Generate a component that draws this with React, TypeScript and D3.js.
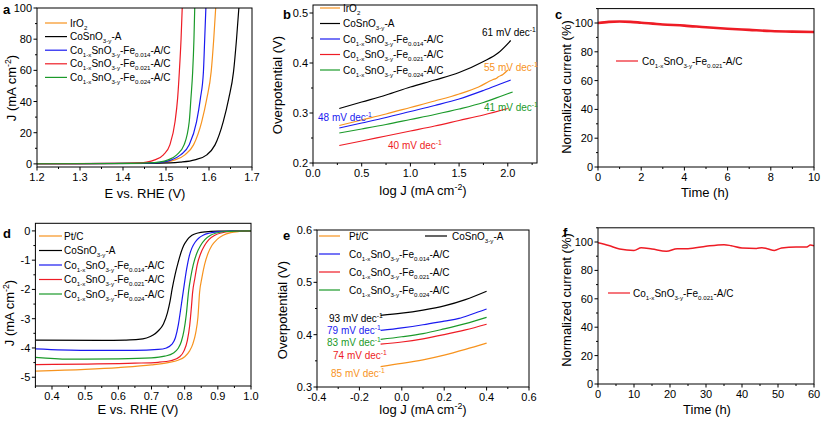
import React from "react";
import * as d3 from "d3";

const FONT = "'Liberation Sans', Arial, Helvetica, sans-serif";
const C = { orange: "#F7931E", black: "#000000", blue: "#1A1AF0", red: "#EE1C25", green: "#1B9A2A" };

type P = [number, number];

// Panel a: OER LSV (E vs RHE, J mA cm-2)
const oerIrO2: P[] = [[1.2,0.1],[1.44,0.3],[1.475,0.6],[1.498,1.1],[1.521,2.6],[1.544,5.8],[1.564,12.2],[1.583,27],[1.595,42],[1.605,59],[1.611,80],[1.616,102]];
const oerCoSnO: P[] = [[1.2,0.1],[1.46,0.3],[1.51,0.6],[1.533,1.1],[1.567,2.6],[1.595,5.8],[1.614,12.2],[1.633,27],[1.646,42],[1.657,59],[1.664,80],[1.67,102]];
const oerFe014: P[] = [[1.2,0.1],[1.43,0.3],[1.47,0.6],[1.49,1.1],[1.513,2.6],[1.534,5.8],[1.554,12.2],[1.571,27],[1.58,42],[1.587,59],[1.59,80],[1.593,102]];
const oerFe021: P[] = [[1.2,0.1],[1.4,0.3],[1.44,0.6],[1.455,1.1],[1.474,2.6],[1.494,5.8],[1.509,12.2],[1.521,27],[1.527,42],[1.531,59],[1.535,80],[1.538,102]];
const oerFe024: P[] = [[1.2,0.1],[1.42,0.3],[1.46,0.6],[1.482,1.1],[1.505,2.6],[1.525,5.8],[1.542,12.2],[1.554,27],[1.558,42],[1.562,59],[1.565,80],[1.567,102]];

// Panel b: OER Tafel (log J, overpotential V)
const tafOerIrO2: P[] = [[0.27,0.275],[0.5,0.286],[0.75,0.298],[1.0,0.311],[1.25,0.324],[1.5,0.338],[1.7,0.352],[1.85,0.367],[1.88,0.369],[1.9,0.372],[1.95,0.377],[2.0,0.386]];
const tafOerCoSnO: P[] = [[0.27,0.309],[0.5,0.322],[0.75,0.336],[1.0,0.352],[1.25,0.366],[1.5,0.381],[1.75,0.403],[1.9,0.42],[2.03,0.445]];
const tafOerFe014: P[] = [[0.27,0.27],[0.5,0.28],[0.75,0.291],[1.0,0.303],[1.25,0.315],[1.5,0.328],[1.75,0.345],[1.95,0.36],[2.03,0.366]];
const tafOerFe021: P[] = [[0.27,0.235],[0.5,0.244],[0.75,0.254],[1.0,0.264],[1.25,0.274],[1.5,0.285],[1.75,0.296],[2.0,0.309]];
const tafOerFe024: P[] = [[0.27,0.26],[0.5,0.268],[0.75,0.277],[1.0,0.287],[1.25,0.297],[1.5,0.308],[1.75,0.321],[1.95,0.335],[2.05,0.342]];

// Panel c: OER stability (h, %)
const stabOer: P[] = [[0,100],[0.5,100.8],[1,101],[1.5,100.8],[2,100.2],[3,99],[4,98.2],[5,97],[6,96],[7,95.2],[8,94.4],[9,94],[10,93.8]];

// Panel d: ORR LSV
const orrPtC: P[] = [[0.35,-4.79],[0.5,-4.73],[0.6,-4.67],[0.7,-4.58],[0.75,-4.5],[0.78,-4.42],[0.8,-4.3],[0.815,-4.1],[0.825,-3.85],[0.833,-3.5],[0.84,-2.95],[0.845,-2.1],[0.852,-1.6],[0.86,-1.15],[0.87,-0.78],[0.882,-0.5],[0.897,-0.3],[0.916,-0.15],[0.939,-0.06],[0.964,-0.02],[1.0,0]];
const orrCoSnO: P[] = [[0.35,-3.73],[0.55,-3.74],[0.62,-3.73],[0.66,-3.71],[0.685,-3.66],[0.705,-3.56],[0.72,-3.42],[0.736,-3.18],[0.748,-2.8],[0.756,-2.4],[0.762,-2.0],[0.771,-1.5],[0.781,-1.05],[0.789,-0.74],[0.797,-0.5],[0.808,-0.3],[0.822,-0.15],[0.84,-0.07],[0.863,-0.03],[0.9,-0.01],[1.0,0]];
const orrFe014: P[] = [[0.35,-4.03],[0.5,-4.08],[0.65,-4.08],[0.72,-4.05],[0.745,-4.0],[0.761,-3.88],[0.772,-3.65],[0.781,-3.2],[0.789,-2.6],[0.797,-1.97],[0.806,-1.3],[0.814,-0.85],[0.822,-0.58],[0.832,-0.38],[0.842,-0.25],[0.857,-0.14],[0.873,-0.08],[0.9,-0.03],[0.94,-0.01],[1.0,0]];
const orrFe021: P[] = [[0.35,-4.57],[0.5,-4.55],[0.65,-4.52],[0.72,-4.49],[0.76,-4.43],[0.785,-4.3],[0.798,-4.1],[0.808,-3.75],[0.815,-3.25],[0.82,-2.65],[0.824,-2.1],[0.831,-1.6],[0.838,-1.15],[0.848,-0.78],[0.86,-0.5],[0.873,-0.3],[0.891,-0.15],[0.91,-0.07],[0.94,-0.02],[1.0,0]];
const orrFe024: P[] = [[0.35,-4.32],[0.45,-4.38],[0.6,-4.37],[0.7,-4.34],[0.74,-4.28],[0.765,-4.18],[0.78,-4.02],[0.79,-3.78],[0.798,-3.4],[0.805,-2.85],[0.812,-2.05],[0.818,-1.6],[0.826,-1.15],[0.836,-0.78],[0.848,-0.5],[0.861,-0.3],[0.878,-0.15],[0.896,-0.07],[0.925,-0.02],[1.0,0]];

// Panel e: ORR Tafel
const tafOrrPtC: P[] = [[-0.1,0.339],[0,0.345],[0.1,0.352],[0.2,0.361],[0.3,0.372],[0.4,0.384]];
const tafOrrCoSnO: P[] = [[-0.1,0.437],[0,0.441],[0.1,0.447],[0.2,0.455],[0.3,0.467],[0.4,0.483]];
const tafOrrFe014: P[] = [[-0.1,0.408],[0,0.413],[0.1,0.419],[0.2,0.426],[0.27,0.431],[0.33,0.439],[0.4,0.449]];
const tafOrrFe021: P[] = [[-0.1,0.382],[0,0.386],[0.1,0.392],[0.2,0.4],[0.3,0.409],[0.4,0.42]];
const tafOrrFe024: P[] = [[-0.1,0.391],[0,0.396],[0.1,0.402],[0.2,0.411],[0.3,0.421],[0.4,0.433]];

// Panel f: ORR stability
const stabOrr: P[] = [[0,99.5],[3,97.5],[6,95],[10,94.1],[12,96],[15,95],[19,93.4],[22,95.3],[25,95.3],[30,97],[35,98.1],[37,97.4],[40,95.8],[44,95.5],[45.5,96],[47,95.3],[49,94.1],[51,95.8],[55,96.5],[58,96.5],[59,97.9],[60,97.4]];

// Tick values
const ticksA_x = [1.2,1.3,1.4,1.5,1.6,1.7];
const ticksA_y = [0,20,40,60,80,100];
const ticksB_x = [0,0.5,1.0,1.5,2.0];
const ticksB_y = [0.2,0.3,0.4,0.5];
const ticksC_x = [0,2,4,6,8,10];
const ticksC_y = [0,20,40,60,80,100];
const ticksD_x = [0.4,0.5,0.6,0.7,0.8,0.9,1.0];
const ticksD_y = [0,-1,-2,-3,-4,-5];
const ticksE_x = [-0.4,-0.2,0,0.2,0.4,0.6];
const ticksE_y = [0.3,0.4,0.5,0.6];
const ticksF_x = [0,10,20,30,40,50,60];
const ticksF_y = [0,20,40,60,80,100];

type Part = [string, "n" | "sub" | "sup"];
const IRO2: Part[] = [["IrO", "n"], ["2", "sub"]];
const PTC: Part[] = [["Pt/C", "n"]];
const COSNO: Part[] = [["CoSnO", "n"], ["3-y", "sub"], ["-A", "n"]];
const fe = (v: string): Part[] => [["Co", "n"], ["1-x", "sub"], ["SnO", "n"], ["3-y", "sub"], ["-Fe", "n"], [v, "sub"], ["-A/C", "n"]];
const JLABEL: Part[] = [["J (mA cm", "n"], ["-2", "sup"], [")", "n"]];
const LOGJ: Part[] = [["log J (mA cm", "n"], ["-2", "sup"], [")", "n"]];
const slope = (v: string): Part[] => [[v + " mV dec", "n"], ["-1", "sup"]];

function Rich({ parts, x, y, size = 10, fill = "#000", anchor = "start", rotate, ratio = 0.62 }: { parts: Part[]; x: number; y: number; size?: number; fill?: string; anchor?: string; rotate?: number; ratio?: number }) {
  let cur = 0;
  const spans = parts.map((p, i) => {
    const target = p[1] === "sub" ? size * 0.3 : p[1] === "sup" ? -size * 0.4 : 0;
    const dy = target - cur;
    cur = target;
    return (
      <tspan key={i} dy={dy} fontSize={p[1] === "n" ? size : size * ratio}>
        {p[0]}
      </tspan>
    );
  });
  return (
    <text x={x} y={y} fill={fill} fontFamily={FONT} fontSize={size} textAnchor={anchor as any}
      transform={rotate !== undefined ? `rotate(${rotate},${x},${y})` : undefined}>
      {spans}
    </text>
  );
}

type Series = { data: P[]; color: string; width?: number };
type LegendItem = { parts: Part[]; color: string; lx: number; lw: number; tx: number; y: number; lineW?: number };
type Note = { parts: Part[]; color: string; x: number; y: number };

function Panel(props: {
  id: string; letter: string; letterPos: [number, number];
  px: [number, number]; py: [number, number];
  xd: [number, number]; yd: [number, number];
  xt: number[]; yt: number[]; xMinor: number[]; yMinor: number[];
  xfmt: (v: number) => string; yfmt: (v: number) => string;
  series: Series[]; legend: LegendItem[]; notes?: Note[];
  xTitle: Part[]; yTitle: Part[]; xTitlePos: [number, number]; yTitlePos: [number, number];
}) {
  const x = d3.scaleLinear().domain(props.xd).range(props.px);
  const y = d3.scaleLinear().domain(props.yd).range([props.py[1], props.py[0]]);
  const line = d3.line<P>().x(d => x(d[0])).y(d => y(d[1])).curve(d3.curveMonotoneX);
  const [x0, x1] = props.px;
  const [y0, y1] = props.py;
  return (
    <g>
      <defs>
        <clipPath id={"clip" + props.id}>
          <rect x={x0} y={y0} width={x1 - x0} height={y1 - y0} />
        </clipPath>
      </defs>
      <g clipPath={`url(#clip${props.id})`}>
        {props.series.map((s, i) => (
          <path key={i} d={line(s.data) || ""} fill="none" stroke={s.color} strokeWidth={s.width ?? 1.2} strokeLinejoin="round" />
        ))}
      </g>
      <rect x={x0} y={y0} width={x1 - x0} height={y1 - y0} fill="none" stroke="#000" strokeWidth={1} />
      {props.xt.map(v => (
        <g key={"xt" + v}>
          <line x1={x(v)} x2={x(v)} y1={y1} y2={y1 + 3.5} stroke="#000" />
          <text x={x(v)} y={y1 + 13.5} textAnchor="middle" fontFamily={FONT} fontSize={11}>{props.xfmt(v)}</text>
        </g>
      ))}
      {props.xMinor.map(v => (
        <line key={"xm" + v} x1={x(v)} x2={x(v)} y1={y1} y2={y1 + 2} stroke="#000" />
      ))}
      {props.yt.map(v => (
        <g key={"yt" + v}>
          <line x1={x0 - 3.5} x2={x0} y1={y(v)} y2={y(v)} stroke="#000" />
          <text x={x0 - 5} y={y(v) + 4} textAnchor="end" fontFamily={FONT} fontSize={11}>{props.yfmt(v)}</text>
        </g>
      ))}
      {props.yMinor.map(v => (
        <line key={"ym" + v} x1={x0 - 2} x2={x0} y1={y(v)} y2={y(v)} stroke="#000" />
      ))}
      {props.legend.map((l, i) => (
        <g key={"lg" + i}>
          <line x1={l.lx} x2={l.lx + l.lw} y1={l.y} y2={l.y} stroke={l.color} strokeWidth={l.lineW ?? 1.2} />
          <Rich parts={l.parts} x={l.tx} y={l.y + 3.6} size={10} />
        </g>
      ))}
      {(props.notes || []).map((n, i) => (
        <Rich key={"nt" + i} parts={n.parts} x={n.x} y={n.y + 3.6} size={10} fill={n.color} ratio={0.68} />
      ))}
      <Rich parts={props.xTitle} x={props.xTitlePos[0]} y={props.xTitlePos[1]} size={13} anchor="middle" ratio={0.68} />
      <Rich parts={props.yTitle} x={props.yTitlePos[0]} y={props.yTitlePos[1]} size={13} anchor="middle" rotate={-90} ratio={0.68} />
      <text x={props.letterPos[0]} y={props.letterPos[1]} fontFamily={FONT} fontSize={13} fontWeight="bold">{props.letter}</text>
    </g>
  );
}

const hy = (s: string) => s.replace("\u2212", "-");
const f1 = (v: number) => hy(d3.format(".1f")(v));
const f0 = (v: number) => hy(d3.format("d")(v));
const between = (t: number[]) => t.slice(1).map((v, i) => (v + t[i]) / 2);

export default function App() {
  const legA = (lx: number, lw: number, tx: number, y0: number, dy: number, first: Part[], c0: string): LegendItem[] => [
    { parts: first, color: c0, lx, lw, tx, y: y0 },
    { parts: COSNO, color: C.black, lx, lw, tx, y: y0 + dy },
    { parts: fe("0.014"), color: C.blue, lx, lw, tx, y: y0 + 2 * dy },
    { parts: fe("0.021"), color: C.red, lx, lw, tx, y: y0 + 3 * dy },
    { parts: fe("0.024"), color: C.green, lx, lw, tx, y: y0 + 4 * dy },
  ];
  return (
    <svg width={822} height={423} style={{ position: "absolute", left: 0, top: 0, background: "#fff" }}>
      <rect width={822} height={423} fill="#fff" />
      {/* a */}
      <Panel id="a" letter="a" letterPos={[3, 14]} px={[37, 252]} py={[8, 167]} xd={[1.2, 1.7]} yd={[-2, 100]}
        xt={ticksA_x} yt={ticksA_y} xMinor={between(ticksA_x)} yMinor={between(ticksA_y)} xfmt={f1} yfmt={f0}
        series={[
          { data: oerIrO2, color: C.orange }, { data: oerCoSnO, color: C.black }, { data: oerFe014, color: C.blue },
          { data: oerFe021, color: C.red }, { data: oerFe024, color: C.green },
        ]}
        legend={legA(45, 22, 70, 23, 13.6, IRO2, C.orange)}
        xTitle={[["E vs. RHE (V)", "n"]]} yTitle={JLABEL} xTitlePos={[145, 198]} yTitlePos={[16, 88]} />
      {/* b */}
      <Panel id="b" letter="b" letterPos={[283, 19]} px={[313, 537]} py={[5, 163]} xd={[0, 2.3]} yd={[0.2, 0.516]}
        xt={ticksB_x} yt={ticksB_y} xMinor={[...between(ticksB_x), 2.25]} yMinor={[0.25, 0.35, 0.45]} xfmt={f1} yfmt={f1}
        series={[
          { data: tafOerIrO2, color: C.orange }, { data: tafOerCoSnO, color: C.black }, { data: tafOerFe014, color: C.blue },
          { data: tafOerFe021, color: C.red }, { data: tafOerFe024, color: C.green },
        ]}
        legend={legA(320, 20, 343, 8, 15.5, IRO2, C.orange)}
        notes={[
          { parts: slope("61"), color: C.black, x: 482, y: 32 },
          { parts: slope("55"), color: C.orange, x: 484, y: 67 },
          { parts: slope("48"), color: C.blue, x: 318, y: 117 },
          { parts: slope("41"), color: C.green, x: 484, y: 107 },
          { parts: slope("40"), color: C.red, x: 388, y: 145 },
        ]}
        xTitle={LOGJ} yTitle={[["Overpotential (V)", "n"]]} xTitlePos={[423, 195]} yTitlePos={[282, 85]} />
      {/* c */}
      <Panel id="c" letter="c" letterPos={[555, 19]} px={[598, 814]} py={[8.6, 167]} xd={[0, 10]} yd={[0, 110]}
        xt={ticksC_x} yt={ticksC_y} xMinor={between(ticksC_x)} yMinor={[...between(ticksC_y), 110]} xfmt={f0} yfmt={f0}
        series={[{ data: stabOer, color: C.red, width: 2.6 }]}
        legend={[{ parts: fe("0.021"), color: C.red, lx: 616, lw: 22, tx: 642, y: 61 }]}
        xTitle={[["Time (h)", "n"]]} yTitle={[["Normalized current (%)", "n"]]} xTitlePos={[705, 197]} yTitlePos={[571, 87]} />
      {/* d */}
      <Panel id="d" letter="d" letterPos={[3, 238]} px={[35.4, 251]} py={[223.3, 386]} xd={[0.35, 1.0]} yd={[-5.3, 0.26]}
        xt={ticksD_x} yt={ticksD_y} xMinor={[0.35, ...between(ticksD_x)]} yMinor={between(ticksD_y)} xfmt={f1} yfmt={f0}
        series={[
          { data: orrPtC, color: C.orange }, { data: orrCoSnO, color: C.black }, { data: orrFe014, color: C.blue },
          { data: orrFe021, color: C.red }, { data: orrFe024, color: C.green },
        ]}
        legend={legA(39, 23, 64, 236, 14.5, PTC, C.orange)}
        xTitle={[["E vs. RHE (V)", "n"]]} yTitle={JLABEL} xTitlePos={[138, 414]} yTitlePos={[14, 313]} />
      {/* e */}
      <Panel id="e" letter="e" letterPos={[283, 240]} px={[317, 529]} py={[230, 387]} xd={[-0.4, 0.6]} yd={[0.3, 0.6]}
        xt={ticksE_x} yt={ticksE_y} xMinor={between(ticksE_x)} yMinor={between(ticksE_y)} xfmt={f1} yfmt={f1}
        series={[
          { data: tafOrrPtC, color: C.orange }, { data: tafOrrCoSnO, color: C.black }, { data: tafOrrFe014, color: C.blue },
          { data: tafOrrFe021, color: C.red }, { data: tafOrrFe024, color: C.green },
        ]}
        legend={[
          { parts: PTC, color: C.orange, lx: 319, lw: 21, tx: 349, y: 236 },
          { parts: COSNO, color: C.black, lx: 425, lw: 22, tx: 452, y: 236 },
          { parts: fe("0.014"), color: C.blue, lx: 319, lw: 21, tx: 349, y: 254 },
          { parts: fe("0.021"), color: C.red, lx: 319, lw: 21, tx: 349, y: 272 },
          { parts: fe("0.024"), color: C.green, lx: 319, lw: 21, tx: 349, y: 290 },
        ]}
        notes={[
          { parts: slope("93"), color: C.black, x: 329, y: 318 },
          { parts: slope("79"), color: C.blue, x: 327, y: 330 },
          { parts: slope("83"), color: C.green, x: 327, y: 342 },
          { parts: slope("74"), color: C.red, x: 333, y: 355 },
          { parts: slope("85"), color: C.orange, x: 331, y: 373 },
        ]}
        xTitle={LOGJ} yTitle={[["Overpotential (V)", "n"]]} xTitlePos={[423, 414]} yTitlePos={[287, 310]} />
      {/* f */}
      <Panel id="f" letter="f" letterPos={[563, 237]} px={[598, 814]} py={[227.8, 384]} xd={[0, 60]} yd={[0, 110]}
        xt={ticksF_x} yt={ticksF_y} xMinor={between(ticksF_x)} yMinor={[...between(ticksF_y), 110]} xfmt={f0} yfmt={f0}
        series={[{ data: stabOrr, color: C.red, width: 1.5 }]}
        legend={[{ parts: fe("0.021"), color: C.red, lx: 608, lw: 22, tx: 633, y: 293 }]}
        xTitle={[["Time (h)", "n"]]} yTitle={[["Normalized current (%)", "n"]]} xTitlePos={[707, 414]} yTitlePos={[571, 300]} />
    </svg>
  );
}
